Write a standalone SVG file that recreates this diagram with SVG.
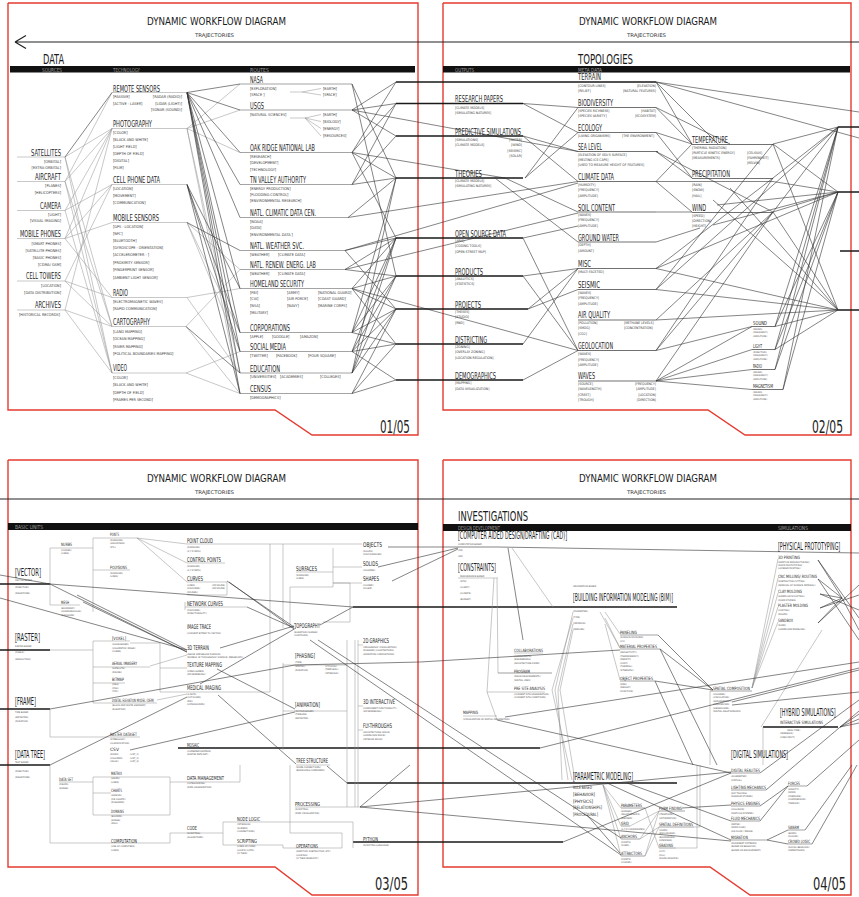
<svg xmlns="http://www.w3.org/2000/svg" width="859" height="897" viewBox="0 0 859 897">
<style>
text{font-family:'DejaVu Sans Condensed','DejaVu Sans','Liberation Sans',sans-serif;font-stretch:condensed}
.f{fill:none;stroke:#e53b2f;stroke-width:1.4}
.h{font-size:11px;fill:#1a1a1a}
.tr{font-size:5px;fill:#333}
.big{font-size:14.5px;fill:#1a1a1a}
.bar{font-size:5.5px;fill:#9a9a9a}
.pg{font-size:17px;fill:#222}
.t{font-size:9px;fill:#1e1e1e}
.t6{font-size:6.5px;fill:#1e1e1e}
.t5{font-size:5.5px;fill:#1e1e1e}
.t4{font-size:4.5px;fill:#2a2a2a}
.tb{font-size:10px;fill:#1e1e1e}
.s1{font-size:3.8px;fill:#3a3a3a}
.s2{font-size:3.4px;fill:#3a3a3a}
.s3{font-size:2.4px;fill:#4a4a4a}
.e{text-anchor:end}
.u{stroke:#666;stroke-width:0.6;fill:none}
.u2{stroke:#333;stroke-width:0.7;fill:none}
.d{stroke:#333;stroke-width:0.6;fill:none}
.g{stroke:#909090;stroke-width:0.5;fill:none}
.k{stroke:#1a1a1a;stroke-width:1.5;fill:none}
.hl{stroke:#222;stroke-width:1.2;fill:none}
.blk{fill:#111}
</style>

<g id="frames">
<polyline class="f" points="8,3 418,3 418,435 312,435 275,410 8,410 8,3"/>
<polyline class="f" points="443,3 851,3 851,435 745,435 708,410 443,410 443,3"/>
<polyline class="f" points="8,460 418,460 418,895 312,895 275,867 8,867 8,460"/>
<polyline class="f" points="443,460 851,460 851,895 750,895 710,867 443,867 443,460"/>
</g>

<g id="headers">
<text class="h" x="147" y="25" textLength="139" lengthAdjust="spacingAndGlyphs">DYNAMIC WORKFLOW DIAGRAM</text>
<text class="tr" x="195" y="37" textLength="39" lengthAdjust="spacingAndGlyphs">TRAJECTORIES</text>
<text class="h" x="579" y="25" textLength="138" lengthAdjust="spacingAndGlyphs">DYNAMIC WORKFLOW DIAGRAM</text>
<text class="tr" x="627" y="37" textLength="39" lengthAdjust="spacingAndGlyphs">TRAJECTORIES</text>
<text class="h" x="147" y="482" textLength="139" lengthAdjust="spacingAndGlyphs">DYNAMIC WORKFLOW DIAGRAM</text>
<text class="tr" x="195" y="494" textLength="39" lengthAdjust="spacingAndGlyphs">TRAJECTORIES</text>
<text class="h" x="579" y="482" textLength="138" lengthAdjust="spacingAndGlyphs">DYNAMIC WORKFLOW DIAGRAM</text>
<text class="tr" x="627" y="494" textLength="39" lengthAdjust="spacingAndGlyphs">TRAJECTORIES</text>
<path class="hl" d="M15 42H859M15 42L26 35.5M15 42L26 48.5M0 499H859"/>
<text class="big" x="43" y="64" textLength="21" lengthAdjust="spacingAndGlyphs">DATA</text>
<rect class="blk" x="10" y="66" width="405" height="6.5"/>
<text class="bar" x="42" y="71.5" textLength="20" lengthAdjust="spacingAndGlyphs">SOURCES</text>
<text class="bar" x="113" y="71.5" textLength="27" lengthAdjust="spacingAndGlyphs">TECHNOLOGY</text>
<text class="bar" x="250" y="71.5" textLength="19" lengthAdjust="spacingAndGlyphs">ROUTES</text>
<text class="big" x="578" y="64" textLength="55" lengthAdjust="spacingAndGlyphs">TOPOLOGIES</text>
<rect class="blk" x="443" y="66" width="407" height="6.5"/>
<text class="bar" x="455" y="71.5" textLength="19" lengthAdjust="spacingAndGlyphs">OUTPUTS</text>
<text class="bar" x="578" y="71.5" textLength="24" lengthAdjust="spacingAndGlyphs">META DATA</text>
<rect class="blk" x="8" y="523" width="410" height="7"/>
<text class="bar" x="15" y="529" textLength="28" lengthAdjust="spacingAndGlyphs">BASIC UNITS</text>
<text class="big" x="458" y="521" textLength="70" lengthAdjust="spacingAndGlyphs">INVESTIGATIONS</text>
<rect class="blk" x="443" y="524" width="408" height="7"/>
<text class="bar" x="458" y="530" textLength="42" lengthAdjust="spacingAndGlyphs">DESIGN DEVELOPMENT</text>
<text class="bar" x="778" y="530" textLength="30" lengthAdjust="spacingAndGlyphs">SIMULATIONS</text>
<text class="pg" x="380" y="433" textLength="30" lengthAdjust="spacingAndGlyphs">01/05</text>
<text class="pg" x="812" y="433" textLength="31" lengthAdjust="spacingAndGlyphs">02/05</text>
<text class="pg" x="375" y="890" textLength="33" lengthAdjust="spacingAndGlyphs">03/05</text>
<text class="pg" x="813" y="890" textLength="33" lengthAdjust="spacingAndGlyphs">04/05</text>
</g>

<g id="connectors">
<path class="g" d="M65 157L112 128.5M65 157L112 326.5M65 157L112 373M65 181.5L112 92.5M65 181.5L112 128.5M65 181.5L112 326.5M65 181.5L112 373M65 210.5L112 128.5M65 210.5L112 184.5M65 210.5L112 373M65 238.5L112 184.5M65 238.5L112 222.5M65 238.5L112 128.5M65 238.5L112 297.5M65 281L112 297.5M65 281L112 184.5M65 281L112 326.5M65 310L112 326.5M65 310L112 128.5M65 310L112 373M187 128.5L240 84M187 128.5L240 110M187 128.5L240 152.5M187 128.5L240 373M187 128.5L240 393.5M187 222.5L240 269.5M187 222.5L240 332.5M187 222.5L240 351.5M187 297.5L240 288.5M187 297.5L240 373M186 326.5L240 269.5M186 326.5L240 393.5M186 373L240 393.5M186 373L240 351.5M290 92H302M302 92L321 88.5M302 92L321 95M290 118H305M305 118L321 114.5M305 118L321 121.5M305 118L321 128.5M305 118L321 136"/>
<path class="d" d="M65 157L112 92.5M187 92.5L240 84M187 92.5L240 110M187 92.5L240 152.5M187 92.5L240 184.5M187 92.5L240 217.5M187 92.5L240 288.5M187 92.5L240 332.5M187 92.5L240 351.5M187 92.5L240 373M187 92.5L240 393.5M187 184.5L240 288.5M187 184.5L240 332.5M187 184.5L240 351.5M187 184.5L240 393.5M187 222.5L240 250.5M186 326.5L240 373M352 84L396 178M352 84L396 276M352 110L396 82M352 110L396 103.5M352 110L396 136M352 152.5L396 82M352 152.5L396 103.5M352 152.5L396 178M352 152.5L396 238M352 184.5L396 103.5M352 184.5L396 136M352 184.5L396 178M348 217.5L396 178M345 250.5L396 238M345 250.5L396 309M345 269.5L396 238M345 269.5L396 276M352 288.5L396 238M352 288.5L396 276M352 288.5L396 309M352 288.5L396 344M352 332.5L396 178M352 332.5L396 238M352 332.5L396 276M352 332.5L396 309M352 332.5L396 344M352 351.5L396 238M352 351.5L396 276M352 351.5L396 309M352 351.5L396 344M352 351.5L396 380M352 373L396 178M352 373L396 238M352 373L396 276M352 373L396 309M352 393.5L396 309M352 393.5L396 344M352 393.5L396 380M352 110L578 151.5M348 217.5L578 181.5M345 250.5L578 183M345 269.5L578 213M352 288.5L578 350.5M352 152.5L505 178"/>
<path class="k" d="M396 82H656M396 103.5H523M396 136H523M396 178H523M396 238H523M396 276H523M396 309H528M396 344H523M396 380H523M838 127H859M838 192H859M840 251H859M838 310H859"/>
<path class="d" d="M523 103.5L578 107.5M523 103.5L578 132.5M523 136L578 151.5M523 136L578 181.5M525 178L578 107.5M525 178L578 132.5M505 178L578 212M495 178L578 242M523 238L578 226M523 238L578 350.5M523 276L578 268.5M523 276L578 350.5M528 309L578 268.5M528 309L578 289.5M523 344L578 268.5M523 380L578 350.5M656 82L692 144M656 82L718 144M656 82L859 112M656 82L859 138M656 107.5L692 144M656 107.5L730 144M656 132.5L692 144M656 132.5L692 178M656 151.5L692 178M656 151.5L773 212M656 181.5L692 144M656 181.5L692 212M656 181.5L773 181.5M656 212L692 212M656 242L700 228M656 268.5L773 178M656 268.5L838 310M656 268.5L838 192M656 289.5L773 144M656 289.5L838 127M656 289.5L838 310M656 320L838 310M656 320L773 212M656 350.5L773 178M656 350.5L773 212M656 350.5L752 326.5M656 381L752 326.5M656 381L752 349.5M656 381L752 369.5M656 381L752 389.5M656 381L773 212M838 127L773 178M838 127L773 212M838 127L775 326.5M838 127L775 349.5M838 127L775 369.5M838 127L783 389.5M838 127L773 144M838 192L773 144M838 192L773 181.5M838 192L773 212M838 192L717 205M838 192L713 225M838 192L775 326.5M838 192L775 349.5M838 192L775 369.5M838 192L783 389.5M838 310L775 326.5M838 310L775 349.5M838 310L730 188M838 310L713 200M838 310L773 144M838 310L773 212"/>
<path class="k" d="M0 584H50M0 650H50M0 709H50M0 765H50M178 748H540M353 607H677M347 783H677M353 842H563M763 727H838"/>
<path class="g" d="M50 548V605M50 548H93M93 548V538H137M93 548V612M93 570H130M50 605H80M187 544H362M187 563H225M187 582H227V595H187M185 602V610M185 607H247M270 544V628M283 544V628M296 572H333M333 548V587M333 567H362M333 583H362M290 628V587H333M333 583H350V622H323M50 650H93M93 641V703M93 641H130M93 667H150M93 683H125M93 703H157M130 643H160V692H270V628M160 668H187M50 709V737H140M283 663V750M283 665H295M283 711H295M295 665H347M347 640V807M295 711H347M355 640V807M358 640V807M358 645H363M358 706H363M358 730H363M296 765H330M50 765V843H170M59 782H93M93 777V815M93 777H170M93 815H170M170 777V815M93 793H111M170 782H240V765M170 843V833H223M223 822V845M223 822H353V848M223 845H283V848H342V833H290V765M295 807H360M137 538L187 544M137 538L187 563M137 538L187 582M150 666L187 655M157 700L187 694M512 548L553 607M458 578H498M497 578L498 673H552M494 578L487 692H545M487 692L497 720M463 716H497M514 653H543M573 612L555 690L568 780M573 618L552 690L572 780M573 624L558 690L562 780M573 630L560 690L575 780M605 612L620 634M605 618L620 648M605 624L620 680M600 612L620 648M752 688L778 622M752 688L778 607M752 688L778 593M752 688L778 578M752 688L778 559M710 691V765M761 727L822 630M763 727V765M603 785L621 808M603 785L621 826M603 785L621 839M603 785L621 856M645 808L659 848M630 826L659 811M640 839L659 811M640 839L659 827M645 856L659 811M645 856L659 827M676 848H697V765M694 827H700V765"/>
<path class="d" d="M227 581L294 627M229 582L294 629M247 607L294 628M50 584L353 607M50 584L187 652M0 598L187 650M77 595L187 650M83 602L187 652M0 575L50 584M320 625L353 607M310 640L621 855M318 640L621 838M220 648L294 626M200 684L296 628M50 709L295 665L420 662L620 650M217 669L295 709M218 695L296 764M50 765L187 697M130 750L295 712M327 766L347 783M360 807L731 772M360 807L731 841M360 807L410 765M563 842L731 773M388 547L458 547M378 567L458 548M392 581L458 549M458 547H497M497 547L859 553M508 548L523 640M658 635L713 690M660 649L713 690M660 649L717 765M655 681L693 765M655 681L713 690M732 702L859 670M732 705L859 692M505 717L859 662M497 720L731 773M540 748L859 668M840 727L859 714M840 727L859 719M840 727L859 723M818 560L842 598M818 579L842 598M820 594L842 598M820 608L842 598M818 623L842 598M818 560L859 618M818 579L859 640M820 594L859 610M820 608L859 595M818 623L859 585M842 598L859 630M760 773L859 700M766 790L859 711M807 786L859 740M760 806L788 786M760 821L788 786M767 840L788 830M767 840L788 844M805 830L852 765M812 844L857 765M627 783L731 821M607 783L731 840M682 808L731 805M587 815L620 853"/>
</g>

<!-- PANEL 1 : SOURCES -->
<g id="n-satellites"><line class="g" x1="17" y1="157" x2="65" y2="157"/><text class="t" x="31" y="155.5" textLength="30" lengthAdjust="spacingAndGlyphs">SATELLITES</text><text class="s1 e" x="61" y="162.5">[ORBITAL]</text><text class="s1 e" x="61" y="169">[EXTRA-ORBITAL]</text></g>
<g id="n-aircraft"><line class="g" x1="17" y1="181.5" x2="65" y2="181.5"/><text class="t" x="35" y="180" textLength="26" lengthAdjust="spacingAndGlyphs">AIRCRAFT</text><text class="s1 e" x="61" y="187">[PLANES]</text><text class="s1 e" x="61" y="194">[HELICOPTERS]</text></g>
<g id="n-camera"><line class="g" x1="17" y1="210.5" x2="65" y2="210.5"/><text class="t" x="40" y="209" textLength="21" lengthAdjust="spacingAndGlyphs">CAMERA</text><text class="s1 e" x="61" y="215.5">[LIGHT]</text><text class="s1 e" x="61" y="222">[VISUAL IMAGING]</text></g>
<g id="n-mobile-phones"><line class="g" x1="17" y1="238.5" x2="65" y2="238.5"/><text class="t" x="20" y="237" textLength="41" lengthAdjust="spacingAndGlyphs">MOBILE PHONES</text><text class="s1 e" x="61" y="245">[SMART PHONES]</text><text class="s1 e" x="61" y="252">[SATELLITE PHONES]</text><text class="s1 e" x="61" y="259">[BASIC PHONES]</text><text class="s1 e" x="61" y="266">[CDMA/ GSM]</text></g>
<g id="n-cell-towers"><line class="g" x1="17" y1="281" x2="65" y2="281"/><text class="t" x="26" y="279" textLength="35" lengthAdjust="spacingAndGlyphs">CELL TOWERS</text><text class="s1 e" x="61" y="287">[LOCATION]</text><text class="s1 e" x="61" y="294">[DATA DISTRIBUTION]</text></g>
<g id="n-archives"><line class="g" x1="17" y1="310" x2="65" y2="310"/><text class="t" x="35" y="308" textLength="26" lengthAdjust="spacingAndGlyphs">ARCHIVES</text><text class="s1" x="19" y="316">[HISTORICAL RECORDS]</text></g>

<!-- PANEL 1 : TECHNOLOGY -->
<g id="n-remote-sensors"><line class="g" x1="112" y1="92.5" x2="187" y2="92.5"/><text class="t" x="113" y="91.5" textLength="47" lengthAdjust="spacingAndGlyphs">REMOTE SENSORS</text><text class="s1" x="113" y="98">[PASSIVE]</text><text class="s1" x="113" y="104.5">[ACTIVE - LASER]</text><text class="s1 e" x="182" y="98">[RADAR (RADIO)]</text><text class="s1 e" x="182" y="104.5">[LIDAR (LIGHT)]</text><text class="s1 e" x="182" y="111">[SONAR (SOUND)]</text></g>
<g id="n-photography"><line class="g" x1="112" y1="128.5" x2="187" y2="128.5"/><text class="t" x="113" y="127" textLength="39" lengthAdjust="spacingAndGlyphs">PHOTOGRAPHY</text><text class="s1" x="113" y="133.5">[COLOR]</text><text class="s1" x="113" y="140.5">[BLACK AND WHITE]</text><text class="s1" x="113" y="147.5">[LIGHT FIELD]</text><text class="s1" x="113" y="154.5">[DEPTH OF FIELD]</text><text class="s1" x="113" y="161.5">[DIGITAL]</text><text class="s1" x="113" y="168.5">[FILM]</text></g>
<g id="n-cell-phone-data"><line class="g" x1="112" y1="184.5" x2="187" y2="184.5"/><text class="t" x="113" y="183" textLength="47" lengthAdjust="spacingAndGlyphs">CELL PHONE DATA</text><text class="s1" x="113" y="189.5">[LOCATION]</text><text class="s1" x="113" y="196.5">[MOVEMENT]</text><text class="s1" x="113" y="204">[COMMUNICATION]</text></g>
<g id="n-mobile-sensors"><line class="g" x1="112" y1="222.5" x2="187" y2="222.5"/><text class="t" x="113" y="221" textLength="46" lengthAdjust="spacingAndGlyphs">MOBILE SENSORS</text><text class="s1" x="113" y="227.5">[GPS - LOCATION]</text><text class="s1" x="113" y="234.5">[NFC]</text><text class="s1" x="113" y="242">[BLUETOOTH]</text><text class="s1" x="113" y="249">[GYROSCOPE - ORIENTATION]</text><text class="s1" x="113" y="256">[ACCELEROMETER - ]</text><text class="s1" x="113" y="264">[PROXIMITY SENSOR]</text><text class="s1" x="113" y="271">[FINGERPRINT SENSOR]</text><text class="s1" x="113" y="279">[AMBIENT LIGHT SENSOR]</text></g>
<g id="n-radio"><line class="g" x1="112" y1="297.5" x2="187" y2="297.5"/><text class="t" x="113" y="296" textLength="15" lengthAdjust="spacingAndGlyphs">RADIO</text><text class="s1" x="113" y="303">[ELECTROMAGNETIC WAVES]</text><text class="s1" x="113" y="309.5">[RAPID COMMUNICATION]</text></g>
<g id="n-cartography"><line class="g" x1="112" y1="326.5" x2="186" y2="326.5"/><text class="t" x="113" y="325" textLength="37" lengthAdjust="spacingAndGlyphs">CARTOGRAPHY</text><text class="s1" x="113" y="332.5">[LAND MAPPING]</text><text class="s1" x="113" y="340">[OCEAN MAPPING]</text><text class="s1" x="113" y="347.5">[RIVER MAPPING]</text><text class="s1" x="113" y="355">[POLITICAL BOUNDARIES MAPPING]</text></g>
<g id="n-video"><line class="g" x1="112" y1="373" x2="186" y2="373"/><text class="t" x="113" y="371" textLength="14" lengthAdjust="spacingAndGlyphs">VIDEO</text><text class="s1" x="113" y="378.5">[COLOR]</text><text class="s1" x="113" y="386">[BLACK AND WHITE]</text><text class="s1" x="113" y="393.5">[DEPTH OF FIELD]</text><text class="s1" x="113" y="401">[FRAMES PER SECOND]</text></g>

<!-- PANEL 1 : ROUTES -->
<g id="n-nasa"><line class="u" x1="240" y1="84" x2="352" y2="84"/><text class="t" x="250" y="83" textLength="13" lengthAdjust="spacingAndGlyphs">NASA</text><text class="s1" x="250" y="89.5">[EXPLORATION]</text><text class="s1" x="250" y="96">[SPACE ]</text><text class="s1" x="323" y="89.5">[EARTH]</text><text class="s1" x="323" y="96">[SPACE]</text></g>
<g id="n-usgs"><line class="u" x1="240" y1="110" x2="352" y2="110"/><text class="t" x="250" y="108.5" textLength="14" lengthAdjust="spacingAndGlyphs">USGS</text><text class="s1" x="250" y="115.5">[NATURAL SCIENCES]</text><text class="s1" x="323" y="115.5">[EARTH]</text><text class="s1" x="323" y="122.5">[BIOLOGY]</text><text class="s1" x="323" y="129.5">[ENERGY]</text><text class="s1" x="323" y="137">[RESOURCES]</text></g>
<g id="n-oak-ridge"><line class="u" x1="240" y1="152.5" x2="352" y2="152.5"/><text class="t" x="250" y="151" textLength="65" lengthAdjust="spacingAndGlyphs">OAK RIDGE NATIONAL LAB</text><text class="s1" x="250" y="157.5">[RESEARCH]</text><text class="s1" x="250" y="164">[DEVELOPMENT]</text><text class="s1" x="250" y="171">[TECHNOLOGY]</text></g>
<g id="n-tn-valley"><line class="u" x1="240" y1="184.5" x2="352" y2="184.5"/><text class="t" x="250" y="183" textLength="56" lengthAdjust="spacingAndGlyphs">TN VALLEY AUTHORITY</text><text class="s1" x="250" y="189.5">[ENERGY PRODUCTION]</text><text class="s1" x="250" y="195.5">[FLOODING CONTROL]</text><text class="s1" x="250" y="201.5">[ENVIRONMENTAL RESEARCH]</text></g>
<g id="n-ncdc"><line class="u" x1="240" y1="217.5" x2="348" y2="217.5"/><text class="t" x="250" y="216" textLength="66" lengthAdjust="spacingAndGlyphs">NATL. CLIMATIC DATA CEN.</text><text class="s1" x="250" y="222.5">[NOAA]</text><text class="s1" x="250" y="229">[DATA]</text><text class="s1" x="250" y="236">[ENVIRONMENTAL DATA ]</text></g>
<g id="n-nws"><line class="u" x1="240" y1="250.5" x2="345" y2="250.5"/><text class="t" x="250" y="249" textLength="54" lengthAdjust="spacingAndGlyphs">NATL. WEATHER SVC.</text><text class="s1" x="250" y="256">[WEATHER]</text><text class="s1" x="278" y="256">[CLIMATE DATA]</text></g>
<g id="n-nrel"><line class="u" x1="240" y1="269.5" x2="345" y2="269.5"/><text class="t" x="250" y="268" textLength="66" lengthAdjust="spacingAndGlyphs">NATL. RENEW. ENERG. LAB</text><text class="s1" x="250" y="275">[WEATHER]</text><text class="s1" x="278" y="275">[CLIMATE DATA]</text></g>
<g id="n-homeland"><line class="u" x1="240" y1="288.5" x2="352" y2="288.5"/><text class="t" x="250" y="287" textLength="54" lengthAdjust="spacingAndGlyphs">HOMELAND SECURITY</text><text class="s1" x="250" y="293.5">[FBI]</text><text class="s1" x="287" y="293.5">[ARMY]</text><text class="s1" x="318" y="293.5">[NATIONAL GUARD]</text><text class="s1" x="250" y="300">[CIA]</text><text class="s1" x="287" y="300">[AIR FORCE]</text><text class="s1" x="318" y="300">[COAST GUARD]</text><text class="s1" x="250" y="307">[NSA]</text><text class="s1" x="287" y="307">[NAVY]</text><text class="s1" x="318" y="307">[MARINE CORPS]</text><text class="s1" x="250" y="313.5">[MILITARY]</text></g>
<g id="n-corporations"><line class="u" x1="240" y1="332.5" x2="352" y2="332.5"/><text class="t" x="250" y="331" textLength="40" lengthAdjust="spacingAndGlyphs">CORPORATIONS</text><text class="s1" x="250" y="337.5">[APPLE]</text><text class="s1" x="272" y="337.5">[GOOGLE]</text><text class="s1" x="300" y="337.5">[AMAZON]</text></g>
<g id="n-social-media"><line class="u" x1="240" y1="351.5" x2="352" y2="351.5"/><text class="t" x="250" y="350" textLength="36" lengthAdjust="spacingAndGlyphs">SOCIAL MEDIA</text><text class="s1" x="250" y="357">[TWITTER]</text><text class="s1" x="276" y="357">[FACEBOOK]</text><text class="s1" x="308" y="357">[FOUR SQUARE]</text></g>
<g id="n-education"><line class="u" x1="240" y1="373" x2="352" y2="373"/><text class="t" x="250" y="371.5" textLength="30" lengthAdjust="spacingAndGlyphs">EDUCATION</text><text class="s1" x="250" y="377.5">[UNIVERSITIES]</text><text class="s1" x="280" y="377.5">[ACADEMIES]</text><text class="s1" x="320" y="377.5">[COLLEGES]</text></g>
<g id="n-census"><line class="u" x1="240" y1="393.5" x2="352" y2="393.5"/><text class="t" x="250" y="392" textLength="21" lengthAdjust="spacingAndGlyphs">CENSUS</text><text class="s1" x="250" y="398.5">[DEMOGRAPHICS]</text></g>

<!-- PANEL 2 : OUTPUTS -->
<g id="n-research-papers"><text class="t" x="455" y="102" textLength="48" lengthAdjust="spacingAndGlyphs">RESEARCH PAPERS</text><text class="s2" x="455" y="108.5">[CLIMATE MODELS]</text><text class="s2" x="455" y="114">[SIMULATING NATURES]</text></g>
<g id="n-predictive-simulations"><text class="t" x="455" y="134.5" textLength="66" lengthAdjust="spacingAndGlyphs">PREDICTIVE SIMULATIONS</text><text class="s2" x="455" y="140.5">[SIMULATIONS]</text><text class="s2" x="455" y="146">[CLIMATE MODELS]</text><text class="s2 e" x="522" y="140.5">[WATER]</text><text class="s2 e" x="522" y="146">[WIND]</text><text class="s2 e" x="522" y="151.5">[SEISMIC]</text><text class="s2 e" x="522" y="157">[SOLAR]</text></g>
<g id="n-theories"><text class="t" x="455" y="176.5" textLength="27" lengthAdjust="spacingAndGlyphs">THEORIES</text><text class="s2" x="455" y="181.5">[CLIMATE MODELS]</text><text class="s2" x="455" y="187">[SIMULATING NATURES]</text></g>
<g id="n-open-source-data"><text class="t" x="455" y="236.5" textLength="51" lengthAdjust="spacingAndGlyphs">OPEN SOURCE DATA</text><text class="s2" x="455" y="241.5">[APIS]</text><text class="s2" x="455" y="247">[CODING TOOLS]</text><text class="s2" x="455" y="252.5">[OPEN STREET MAP]</text></g>
<g id="n-products"><text class="t" x="455" y="274.5" textLength="28" lengthAdjust="spacingAndGlyphs">PRODUCTS</text><text class="s2" x="455" y="279.5">[ANALYTICS]</text><text class="s2" x="455" y="285">[STATISTICS]</text></g>
<g id="n-projects"><text class="t" x="455" y="307.5" textLength="26" lengthAdjust="spacingAndGlyphs">PROJECTS</text><text class="s2" x="455" y="312.5">[THESES]</text><text class="s2" x="455" y="318">[STUDIO]</text><text class="s2" x="455" y="323.5">[RND]</text></g>
<g id="n-districting"><text class="t" x="455" y="342.5" textLength="32" lengthAdjust="spacingAndGlyphs">DISTRICTING</text><text class="s2" x="455" y="347.5">[ZONING]</text><text class="s2" x="455" y="353">[OVERLAY ZONING]</text><text class="s2" x="455" y="358.5">[LOCATION REGULATION]</text></g>
<g id="n-demographics"><text class="t" x="455" y="378.5" textLength="41" lengthAdjust="spacingAndGlyphs">DEMOGRAPHICS</text><text class="s2" x="455" y="384">[MAPPING]</text><text class="s2" x="455" y="389.5">[DATA VISUALIZATION]</text></g>

<!-- PANEL 2 : META DATA -->
<g id="n-terrain"><text class="t" x="578" y="80" textLength="23" lengthAdjust="spacingAndGlyphs">TERRAIN</text><text class="s2" x="578" y="86.5">[CONTOUR LINES]</text><text class="s2" x="578" y="92">[RELIEF]</text><text class="s2 e" x="656" y="86.5">[ELEVATION]</text><text class="s2 e" x="656" y="92">[NATURAL FEATURES]</text></g>
<g id="n-biodiversity"><line class="u2" x1="578" y1="107.5" x2="656" y2="107.5"/><text class="t" x="578" y="106" textLength="35" lengthAdjust="spacingAndGlyphs">BIODIVERSITY</text><text class="s2" x="578" y="111.5">[SPECIES RICHNESS]</text><text class="s2" x="578" y="116.5">[SPECIES VARIETY]</text><text class="s2 e" x="656" y="111.5">[HABITAT]</text><text class="s2 e" x="656" y="116.5">[ECOSYSTEM]</text></g>
<g id="n-ecology"><line class="u2" x1="578" y1="132.5" x2="656" y2="132.5"/><text class="t" x="578" y="131" textLength="24" lengthAdjust="spacingAndGlyphs">ECOLOGY</text><text class="s2" x="578" y="136.5">[LIVING ORGANISMS]</text><text class="s2" x="622" y="136.5">[THE ENVIRONMENT]</text></g>
<g id="n-sea-level"><line class="u2" x1="578" y1="151.5" x2="658" y2="151.5"/><text class="t" x="578" y="150" textLength="24" lengthAdjust="spacingAndGlyphs">SEA LEVEL</text><text class="s2" x="578" y="155.5">[ELEVATION OF SEA'S SURFACE]</text><text class="s2" x="578" y="160.5">[MELTING ICE CAPS]</text><text class="s2" x="578" y="166">[USED TO MEASURE HEIGHT OF FEATURES]</text></g>
<g id="n-climate-data"><line class="u2" x1="578" y1="181.5" x2="656" y2="181.5"/><text class="t" x="578" y="180" textLength="36" lengthAdjust="spacingAndGlyphs">CLIMATE DATA</text><text class="s2" x="578" y="185.5">[HUMIDITY]</text><text class="s2" x="578" y="191">[FREQUENCY]</text><text class="s2" x="578" y="196.5">[AMPLITUDE]</text></g>
<g id="n-soil-content"><line class="u2" x1="578" y1="212" x2="656" y2="212"/><text class="t" x="578" y="210.5" textLength="37" lengthAdjust="spacingAndGlyphs">SOIL CONTENT</text><text class="s2" x="578" y="215.5">[WAVES]</text><text class="s2" x="578" y="221">[FREQUENCY]</text><text class="s2" x="578" y="226.5">[AMPLITUDE]</text></g>
<g id="n-ground-water"><line class="u2" x1="578" y1="242" x2="656" y2="242"/><text class="t" x="578" y="240.5" textLength="41" lengthAdjust="spacingAndGlyphs">GROUND WATER</text><text class="s2" x="578" y="246">[DEPTH]</text><text class="s2" x="578" y="251.5">[AMOUNT]</text></g>
<g id="n-misc"><line class="u2" x1="578" y1="268.5" x2="656" y2="268.5"/><text class="t" x="578" y="267" textLength="13" lengthAdjust="spacingAndGlyphs">MISC</text><text class="s2" x="578" y="272.5">[MULTI FACETED]</text></g>
<g id="n-seismic"><line class="u2" x1="578" y1="289.5" x2="656" y2="289.5"/><text class="t" x="578" y="288" textLength="22" lengthAdjust="spacingAndGlyphs">SEISMIC</text><text class="s2" x="578" y="293.5">[WAVES]</text><text class="s2" x="578" y="299">[FREQUENCY]</text><text class="s2" x="578" y="304.5">[AMPLITUDE]</text></g>
<g id="n-air-quality"><line class="u2" x1="578" y1="320" x2="656" y2="320"/><text class="t" x="578" y="318" textLength="32" lengthAdjust="spacingAndGlyphs">AIR QUALITY</text><text class="s2" x="578" y="323.5">[POLLUTION]</text><text class="s2" x="578" y="329">[SMOG]</text><text class="s2" x="578" y="334.5">[CO2]</text><text class="s2" x="624" y="323.5">[METHANE LEVELS]</text><text class="s2" x="624" y="329">[CONCENTRATION]</text></g>
<g id="n-geolocation"><line class="u2" x1="578" y1="350.5" x2="656" y2="350.5"/><text class="t" x="578" y="349" textLength="35" lengthAdjust="spacingAndGlyphs">GEOLOCATION</text><text class="s2" x="578" y="355">[WAVES]</text><text class="s2" x="578" y="360.5">[FREQUENCY]</text><text class="s2" x="578" y="366">[AMPLITUDE]</text></g>
<g id="n-waves"><line class="u2" x1="578" y1="381" x2="656" y2="381"/><text class="t" x="578" y="379" textLength="17" lengthAdjust="spacingAndGlyphs">WAVES</text><text class="s2" x="578" y="384.5">[SOURCE]</text><text class="s2" x="578" y="390">[WAVELENGTH]</text><text class="s2" x="578" y="395.5">[CREST]</text><text class="s2" x="578" y="401">[TROUGH]</text><text class="s2 e" x="656" y="384.5">[FREQUENCY]</text><text class="s2 e" x="656" y="390">[AMPLITUDE]</text><text class="s2 e" x="656" y="395.5">[LOCATION]</text><text class="s2 e" x="656" y="401">[DIRECTION]</text></g>
<g id="n-temperature"><line class="u2" x1="692" y1="144.5" x2="773" y2="144.5"/><text class="t" x="692" y="143" textLength="36" lengthAdjust="spacingAndGlyphs">TEMPERATURE</text><text class="s2" x="692" y="148.5">[THERMAL RADIATION]</text><text class="s2" x="692" y="153.5">[PARTICLE KINETIC ENERGY]</text><text class="s2" x="692" y="158.5">[MEASUREMENTS]</text><text class="s2" x="747" y="153.5">[CELSIUS]</text><text class="s2" x="747" y="158.5">[FAHRENHEIT]</text><text class="s2" x="747" y="164">[KELVIN]</text></g>
<g id="n-precipitation"><line class="u2" x1="692" y1="178.5" x2="773" y2="178.5"/><text class="t" x="692" y="177" textLength="38" lengthAdjust="spacingAndGlyphs">PRECIPITATION</text><text class="s2" x="692" y="185.5">[RAIN]</text><text class="s2" x="692" y="191">[SNOW]</text><text class="s2" x="692" y="196.5">[HAIL]</text></g>
<g id="n-wind"><line class="u2" x1="692" y1="212.5" x2="773" y2="212.5"/><text class="t" x="692" y="211" textLength="14" lengthAdjust="spacingAndGlyphs">WIND</text><text class="s2" x="692" y="216.5">[SPEED]</text><text class="s2" x="692" y="221.5">[DIRECTION]</text><text class="s2" x="692" y="227">[HEIGHT]</text></g>
<g id="n-sound"><line class="u2" x1="752" y1="326.5" x2="775" y2="326.5"/><text class="t5" x="753" y="325" textLength="14" lengthAdjust="spacingAndGlyphs">SOUND</text><text class="s3" x="753" y="329.5">[WAVES]</text><text class="s3" x="753" y="333">[FREQUENCY]</text><text class="s3" x="753" y="336.5">[AMPLITUDE]</text></g>
<g id="n-light"><line class="u2" x1="752" y1="349.5" x2="775" y2="349.5"/><text class="t5" x="753" y="348" textLength="9" lengthAdjust="spacingAndGlyphs">LIGHT</text><text class="s3" x="753" y="352.5">[DIRECTION]</text><text class="s3" x="753" y="356">[FREQUENCY]</text><text class="s3" x="753" y="359.5">[AMPLITUDE]</text></g>
<g id="n-radio2"><line class="u2" x1="752" y1="369.5" x2="775" y2="369.5"/><text class="t5" x="753" y="368" textLength="9" lengthAdjust="spacingAndGlyphs">RADIO</text><text class="s3" x="753" y="372.5">[WAVES]</text><text class="s3" x="753" y="376">[FREQUENCY]</text><text class="s3" x="753" y="379.5">[AMPLITUDE]</text></g>
<g id="n-magnetism"><line class="u2" x1="752" y1="389.5" x2="783" y2="389.5"/><text class="t5" x="753" y="388" textLength="20" lengthAdjust="spacingAndGlyphs">MAGNETISM</text><text class="s3" x="753" y="392.5">[WAVES]</text><text class="s3" x="753" y="396">[FREQUENCY]</text><text class="s3" x="753" y="399.5">[AMPLITUDE]</text></g>

<!-- PANEL 3 -->
<g id="n-vector"><text class="tb" x="15" y="576" textLength="26" lengthAdjust="spacingAndGlyphs">[VECTOR]</text><text class="s3" x="15" y="581">VECTOR BASED</text><text class="s3" x="15" y="588">[DIRECTION]</text><text class="s3" x="15" y="594">[MAGNITUDE]</text></g>
<g id="n-nurbs"><text class="t4" x="61" y="546" textLength="11" lengthAdjust="spacingAndGlyphs">NURBS</text><text class="s3" x="61" y="550.5">[CURVES]</text><text class="s3" x="61" y="554">[LINES]</text></g>
<g id="n-points"><text class="t4" x="110" y="536" textLength="9" lengthAdjust="spacingAndGlyphs">POINTS</text><text class="s3" x="110" y="540.5">[SURFACES]</text><text class="s3" x="110" y="544">[GROUPINGS]</text><text class="s3" x="110" y="547.5">[STL]</text></g>
<g id="n-polygons"><text class="t4" x="110" y="569" textLength="17" lengthAdjust="spacingAndGlyphs">POLYGONS</text><text class="s3" x="110" y="573.5">[SURFACES]</text><text class="s3" x="110" y="577">[LINES]</text></g>
<g id="n-mesh"><text class="t4" x="61" y="604" textLength="8" lengthAdjust="spacingAndGlyphs">MESH</text><text class="s3" x="61" y="608.5">[BOUNDARY]</text><text class="s3" x="61" y="612">[QUADRANGULAR]</text><text class="s3" x="61" y="615.5">[POLYGONS]</text></g>
<g id="n-point-cloud"><text class="t6" x="187" y="543" textLength="26" lengthAdjust="spacingAndGlyphs">POINT CLOUD</text><text class="s3" x="187" y="548">[SURFACES]</text><text class="s3" x="187" y="551.5">[X,Y,Z DATA]</text></g>
<g id="n-control-points"><text class="t6" x="187" y="562" textLength="34" lengthAdjust="spacingAndGlyphs">CONTROL POINTS</text><text class="s3" x="187" y="567">[SURFACES]</text><text class="s3" x="187" y="570.5">[X,Y,Z DATA]</text></g>
<g id="n-curves"><text class="t6" x="187" y="581" textLength="16" lengthAdjust="spacingAndGlyphs">CURVES</text><text class="s3" x="187" y="585.5">[LINES]</text><text class="s3" x="187" y="589">[POLYLINES]</text><text class="s3" x="187" y="592.5">[SPLINES]</text><text class="s3" x="212" y="585.5">[2D SPLINE]</text><text class="s3" x="212" y="589">[3D SPLINE]</text></g>
<g id="n-network-curves"><text class="t6" x="187" y="606" textLength="36" lengthAdjust="spacingAndGlyphs">NETWORK CURVES</text><text class="s3" x="187" y="610.5">[POLYLINES]</text><text class="s3" x="187" y="614">[DIRECTIONALITY]</text></g>
<g id="n-surfaces"><text class="t6" x="296" y="571" textLength="21" lengthAdjust="spacingAndGlyphs">SURFACES</text><text class="s3" x="296" y="575.5">[SURFACES]</text><text class="s3" x="296" y="579">[LINES]</text></g>
<g id="n-objects"><text class="t6" x="363" y="547" textLength="19" lengthAdjust="spacingAndGlyphs">OBJECTS</text><text class="s3" x="363" y="551.5">[SOLIDS]</text><text class="s3" x="363" y="555">[POLY-SURFACES]</text></g>
<g id="n-solids"><text class="t6" x="363" y="566" textLength="15" lengthAdjust="spacingAndGlyphs">SOLIDS</text><text class="s3" x="363" y="570.5">[VOLUMES]</text></g>
<g id="n-shapes"><text class="t6" x="363" y="581" textLength="16" lengthAdjust="spacingAndGlyphs">SHAPES</text><text class="s3" x="363" y="585.5">[CLOSED]</text><text class="s3" x="363" y="589">[FILLED]</text></g>
<g id="n-topography"><text class="t6" x="294" y="628" textLength="26" lengthAdjust="spacingAndGlyphs">TOPOGRAPHY</text><text class="s3" x="294" y="632.5">[ELEVATION CHANGE]</text><text class="s3" x="294" y="636">[CONTOURS]</text></g>
<g id="n-image-trace"><text class="t6" x="187" y="629" textLength="24" lengthAdjust="spacingAndGlyphs">IMAGE TRACE</text><text class="s3" x="187" y="634">[CONVERT BITMAP TO VECTOR]</text></g>
<g id="n-raster"><text class="tb" x="15" y="641" textLength="25" lengthAdjust="spacingAndGlyphs">[RASTER]</text><text class="s3" x="15" y="646.5">RASTER BASED</text><text class="s3" x="15" y="653">[PIXELS]</text><text class="s3" x="15" y="659.5">[RESOLUTION]</text></g>
<g id="n-voxel"><text class="t4" x="112" y="640" textLength="14" lengthAdjust="spacingAndGlyphs">[VOXEL]</text><text class="s3" x="112" y="645">[VALUE BASED]</text><text class="s3" x="112" y="648.5">[VOLUMETRIC IMAGE]</text><text class="s3" x="112" y="652">[CUBES]</text></g>
<g id="n-3d-terrain"><text class="t6" x="187" y="650" textLength="22" lengthAdjust="spacingAndGlyphs">3D TERRAIN</text><text class="s3" x="187" y="654.5">[ABOVE AND BELOW SURFACE]</text><text class="s3" x="187" y="658">[MODELS OF TOPOGRAPHIC SURFACE, MESHES ETC]</text></g>
<g id="n-aerial-imagery"><text class="t4" x="112" y="665" textLength="25" lengthAdjust="spacingAndGlyphs">AERIAL IMAGERY</text><text class="s3" x="112" y="669">[SATELLITE]</text><text class="s3" x="112" y="672.5">[DRONE]</text></g>
<g id="n-texture-mapping"><text class="t6" x="187" y="667" textLength="35" lengthAdjust="spacingAndGlyphs">TEXTURE MAPPING</text><text class="s3" x="187" y="671.5">[VIDEO GAMES]</text><text class="s3" x="187" y="675">[3D RENDERING]</text></g>
<g id="n-bitmap"><text class="t4" x="112" y="681" textLength="12" lengthAdjust="spacingAndGlyphs">BITMAP</text><text class="s3" x="112" y="685">[JPEG]</text><text class="s3" x="112" y="688.5">[PNG]</text><text class="s3" x="112" y="692">[TIFF]</text></g>
<g id="n-medical-imaging"><text class="t6" x="187" y="690" textLength="34" lengthAdjust="spacingAndGlyphs">MEDICAL IMAGING</text><text class="s3" x="187" y="694.5">[X-RAYS]</text><text class="s3" x="187" y="698">[CAT SCANS]</text><text class="s3" x="187" y="701.5">[MRI]</text><text class="s3" x="187" y="705">[ULTRASOUNDS]</text></g>
<g id="n-dem"><text class="t4" x="112" y="702" textLength="42" lengthAdjust="spacingAndGlyphs">DIGITAL ELEVATION MODEL (DEM)</text><text class="s3" x="112" y="706">[BLACK AND WHITE GRADIENT]</text><text class="s3" x="112" y="709.5">[ELEVATION]</text></g>
<g id="n-frame"><text class="tb" x="15" y="705" textLength="21" lengthAdjust="spacingAndGlyphs">[FRAME]</text><text class="s3" x="15" y="713">TIME BASED</text><text class="s3" x="15" y="717.5">[KEYNOTES]</text><text class="s3" x="15" y="722">[DURATION]</text></g>
<g id="n-phasing"><text class="t6" x="295" y="658" textLength="20" lengthAdjust="spacingAndGlyphs">[PHASING]</text><text class="s3" x="295" y="662.5">[TIME]</text><text class="s3" x="295" y="666.5">[SPATIAL]</text><text class="s3" x="295" y="670.5">[DURATION]</text><text class="s3" x="325" y="666.5">[CYCLICAL]</text><text class="s3" x="325" y="670">[TEMPORAL]</text><text class="s3" x="325" y="673.5">[INTERVALS]</text></g>
<g id="n-2d-graphics"><text class="t6" x="363" y="643" textLength="26" lengthAdjust="spacingAndGlyphs">2D GRAPHICS</text><text class="s3" x="363" y="647.5">[INFOGRAPHIC VISUALIZATION]</text><text class="s3" x="363" y="651">[DIAGRAM] [ILLUSTRATIONS]</text><text class="s3" x="363" y="654.5">[ANIMATION COMPOSITIONS]</text></g>
<g id="n-3d-interactive"><text class="t6" x="363" y="704" textLength="32" lengthAdjust="spacingAndGlyphs">3D INTERACTIVE</text><text class="s3" x="363" y="708.5">[COMPONENT FUNCTIONALITY]</text><text class="s3" x="363" y="712">[3D RENDERING]</text></g>
<g id="n-fly-throughs"><text class="t6" x="363" y="728" textLength="29" lengthAdjust="spacingAndGlyphs">FLY-THROUGHS</text><text class="s3" x="363" y="732.5">[ARCHITECTURAL SPACE]</text><text class="s3" x="363" y="736">[LANDSCAPE SPACE]</text><text class="s3" x="363" y="739.5">[INTERIOR SPACE]</text></g>
<g id="n-animation"><text class="t6" x="295" y="707" textLength="25" lengthAdjust="spacingAndGlyphs">[ANIMATION]</text><text class="s3" x="295" y="711.5">[MOTION BASED]</text><text class="s3" x="295" y="715">[TIMELINE]</text><text class="s3" x="295" y="718.5">[KEYNOTES]</text></g>
<g id="n-raster-dataset"><text class="t4" x="110" y="736" textLength="27" lengthAdjust="spacingAndGlyphs">RASTER DATASET</text><text class="s3" x="110" y="740">[SYMBOLOGY]</text><text class="s3" x="110" y="743.5">[CLASSIFICATION]</text></g>
<g id="n-mosaic"><text class="t5" x="187" y="746.5" textLength="12" lengthAdjust="spacingAndGlyphs">MOSAIC</text><text class="s3" x="187" y="751.5">[COMBINED RASTERS]</text><text class="s3" x="187" y="755">[RASTER DATA SET]</text></g>
<g id="n-csv"><text class="t4" x="110" y="751" textLength="9" lengthAdjust="spacingAndGlyphs">CSV</text><text class="s3" x="110" y="755">[ROWS]</text><text class="s3" x="110" y="758.5">[COLUMNS]</text><text class="s3" x="110" y="762">[CELLS]</text><text class="s3" x="130" y="755">[LIST_1]</text><text class="s3" x="130" y="758.5">[LIST_2]</text><text class="s3" x="130" y="762">[LIST_3]</text></g>
<g id="n-data-tree"><text class="tb" x="15" y="758" textLength="30" lengthAdjust="spacingAndGlyphs">[DATA TREE]</text><text class="s3" x="15" y="763">TEXT BASED</text><text class="s3" x="15" y="771.5">[DIRECTION]</text><text class="s3" x="15" y="778">[MAGNITUDE]</text></g>
<g id="n-tree-structure"><text class="t6" x="296" y="763" textLength="32" lengthAdjust="spacingAndGlyphs">TREE STRUCTURE</text><text class="s3" x="296" y="767.5">[NODE CONNECTIONS]</text><text class="s3" x="296" y="771">[BRANCHING COMMANDS]</text></g>
<g id="n-data-set"><text class="t4" x="59" y="781" textLength="14" lengthAdjust="spacingAndGlyphs">DATA SET</text><text class="s3" x="59" y="785">[FIELDS]</text><text class="s3" x="59" y="788.5">[RANGE]</text></g>
<g id="n-matrix"><text class="t4" x="111" y="775" textLength="11" lengthAdjust="spacingAndGlyphs">MATRIX</text><text class="s3" x="111" y="779">[GRIDS]</text><text class="s3" x="111" y="782.5">[LINES]</text></g>
<g id="n-charts"><text class="t4" x="111" y="792" textLength="11" lengthAdjust="spacingAndGlyphs">CHARTS</text><text class="s3" x="111" y="796">[GRAPHS]</text><text class="s3" x="111" y="799.5">[PIE CHARTS]</text><text class="s3" x="111" y="803">[DIAGRAMS]</text></g>
<g id="n-domains"><text class="t4" x="111" y="813" textLength="13" lengthAdjust="spacingAndGlyphs">DOMAINS</text><text class="s3" x="111" y="817">[BOUNDS]</text><text class="s3" x="111" y="820.5">[RANGE]</text><text class="s3" x="111" y="824">[MAX]</text></g>
<g id="n-data-management"><text class="t5" x="187" y="780" textLength="37" lengthAdjust="spacingAndGlyphs">DATA MANAGEMENT</text><text class="s3" x="187" y="784">[CATEGORIZING]</text><text class="s3" x="187" y="787.5">[DATA ORGANIZATION]</text></g>
<g id="n-processing"><text class="t5" x="295" y="806" textLength="25" lengthAdjust="spacingAndGlyphs">PROCESSING</text><text class="s3" x="295" y="810">[SCRIPTING]</text><text class="s3" x="295" y="813.5">[DATA VISUALIZATION]</text></g>
<g id="n-node-logic"><text class="t5" x="237" y="821" textLength="23" lengthAdjust="spacingAndGlyphs">NODE LOGIC</text><text class="s3" x="237" y="825">[INTERFACE]</text><text class="s3" x="237" y="828.5">[SLIDERS]</text><text class="s3" x="237" y="832">[CONNECTIONS]</text></g>
<g id="n-code"><text class="t5" x="187" y="830" textLength="10" lengthAdjust="spacingAndGlyphs">CODE</text><text class="s3" x="187" y="834">[SCRIPTING]</text><text class="s3" x="187" y="837.5">[ALGORITHMS]</text></g>
<g id="n-computation"><text class="t5" x="111" y="843" textLength="26" lengthAdjust="spacingAndGlyphs">COMPUTATION</text><text class="s3" x="111" y="847">[USE OF COMPUTERS]</text><text class="s3" x="111" y="850.5">[LINKS]</text></g>
<g id="n-scripting"><text class="t5" x="237" y="843" textLength="20" lengthAdjust="spacingAndGlyphs">SCRIPTING</text><text class="s3" x="237" y="847">[LINES OF CODE]</text><text class="s3" x="237" y="850.5">[LOOPS] [LISTS]</text><text class="s3" x="237" y="854">[IF THEN]</text></g>
<g id="n-operations"><text class="t5" x="296" y="848" textLength="22" lengthAdjust="spacingAndGlyphs">OPERATIONS</text><text class="s3" x="296" y="852">[ADDITION, SUBTRACTION, ETC]</text><text class="s3" x="296" y="855.5">[LOOPING]</text><text class="s3" x="296" y="859">[IF THEN WHEN ETC]</text></g>
<g id="n-python"><text class="t5" x="363" y="840.5" textLength="15" lengthAdjust="spacingAndGlyphs">PYTHON</text><text class="s3" x="363" y="845.5">[SCRIPTING LANGUAGE]</text></g>

<!-- PANEL 4 -->
<g id="n-cad"><text class="tb" x="458" y="539" textLength="109" lengthAdjust="spacingAndGlyphs">[COMPUTER AIDED DESIGN/DRAFTING (CAD)]</text><text class="s3" x="458" y="545">COMPUTATION BASED</text><text class="s3" x="458" y="551">[2D]</text><text class="s3" x="458" y="557">[3D]</text></g>
<g id="n-constraints"><text class="tb" x="458" y="571" textLength="38" lengthAdjust="spacingAndGlyphs">[CONSTRAINTS]</text><text class="s3" x="460" y="576.5">PERFORMANCE  BASED</text><text class="s3" x="460" y="582">[SITE]</text><text class="s3" x="460" y="588">[CLIENT]</text><text class="s3" x="460" y="594">[CLIMATE]</text><text class="s3" x="460" y="600">[BUDGET]</text></g>
<g id="n-bim"><text class="s3" x="573" y="587">INFORMATION BASED</text><text class="tb" x="573" y="601" textLength="100" lengthAdjust="spacingAndGlyphs">[BUILDING INFORMATION MODELING (BIM)]</text><text class="s3" x="573" y="612">[PROPERTIES]</text><text class="s3" x="573" y="618">[TYPE]</text><text class="s3" x="573" y="624">[INSTANCE]</text><text class="s3" x="573" y="630">[FAMILIES]</text></g>
<g id="n-physical-prototyping"><text class="tb" transform="translate(778 549.5) scale(0.53 1)">[PHYSICAL PROTOTYPING]</text></g>
<g id="n-3d-printing"><text class="t4" x="778" y="559" textLength="22" lengthAdjust="spacingAndGlyphs">3D PRINTING</text><text class="s3" x="778" y="563">[ADDITIVE MANUFACTURING]</text><text class="s3" x="778" y="566">[RAPID PROTOTYPING]</text><text class="s3" x="778" y="569">[LAYERED PRINTING]</text></g>
<g id="n-cnc"><text class="t4" x="778" y="578" textLength="39" lengthAdjust="spacingAndGlyphs">CNC MILLING/ ROUTING</text><text class="s3" x="778" y="582">[SUBTRACTIVE CUTTING]</text><text class="s3" x="778" y="585.5">[REMOVAL OF SURFACE MATERIAL]</text></g>
<g id="n-clay-molding"><text class="t4" x="778" y="593" textLength="24" lengthAdjust="spacingAndGlyphs">CLAY MOLDING</text><text class="s3" x="778" y="597">[HANDS ON SCULPTING]</text><text class="s3" x="778" y="600.5">[FORM STUDIES]</text></g>
<g id="n-plaster-molding"><text class="t4" x="778" y="607" textLength="30" lengthAdjust="spacingAndGlyphs">PLASTER MOLDING</text><text class="s3" x="778" y="611">[CASTING]</text><text class="s3" x="778" y="614.5">[MOLDS]</text></g>
<g id="n-sandbox"><text class="t4" x="778" y="622" textLength="15" lengthAdjust="spacingAndGlyphs">SANDBOX</text><text class="s3" x="778" y="626">[SAND]</text><text class="s3" x="778" y="629.5">[LANDSCAPE MODELING]</text></g>
<g id="n-paneling"><line class="u" x1="620" y1="635" x2="658" y2="635"/><text class="t4" x="620" y="634" textLength="17" lengthAdjust="spacingAndGlyphs">PANELING</text><text class="s3" x="620" y="638">[SURFACE DIVISIONS]</text><text class="s3" x="620" y="641.5">[UV]</text></g>
<g id="n-collaborations"><text class="t4" x="514" y="652" textLength="29" lengthAdjust="spacingAndGlyphs">COLLABORATIONS</text><text class="s3" x="514" y="656.5">[CONSULTANTS]</text><text class="s3" x="514" y="660">[ENGINEERING]</text><text class="s3" x="514" y="663.5">[ARCHITECTURE FIRMS]</text></g>
<g id="n-material-properties"><line class="u" x1="620" y1="649" x2="660" y2="649"/><text class="t4" x="620" y="648" textLength="37" lengthAdjust="spacingAndGlyphs">MATERIAL PROPERTIES</text><text class="s3" x="620" y="653">[REFLECTIVITY]</text><text class="s3" x="620" y="656.5">[TRANSPARENCY]</text><text class="s3" x="620" y="660">[DENSITY]</text><text class="s3" x="620" y="663.5">[COST]</text><text class="s3" x="620" y="667">[THERMAL]</text><text class="s3" x="620" y="670.5">[STRENGTH]</text></g>
<g id="n-program"><line class="g" x1="498" y1="673" x2="552" y2="673"/><text class="t4" x="514" y="672.5" textLength="16" lengthAdjust="spacingAndGlyphs">PROGRAM</text><text class="s3" x="514" y="677">[SPACE REQUIREMENTS]</text><text class="s3" x="514" y="680.5">[SPATIAL USES]</text></g>
<g id="n-object-properties"><line class="u" x1="620" y1="681" x2="655" y2="681"/><text class="t4" x="620" y="680" textLength="33" lengthAdjust="spacingAndGlyphs">OBJECT PROPERTIES</text><text class="s3" x="620" y="684.5">[SIZE]</text><text class="s3" x="620" y="688">[WEIGHT]</text><text class="s3" x="620" y="691.5">[FUNCTION]</text></g>
<g id="n-pre-site"><text class="t4" x="514" y="690" textLength="31" lengthAdjust="spacingAndGlyphs">PRE SITE ANALYSIS</text><text class="s3" x="514" y="694.5">[CURRENT SITE ORGANIZATION]</text><text class="s3" x="514" y="698">[CURRENT SITE CONDITIONS]</text></g>
<g id="n-spatial-composition"><line class="u" x1="710" y1="691" x2="752" y2="691"/><text class="t4" x="713" y="690" textLength="37" lengthAdjust="spacingAndGlyphs">SPATIAL COMPOSITION</text><text class="s3" x="713" y="694.5">[VOLUMES]</text><text class="s3" x="713" y="698">[CIRCULATION]</text><text class="s3" x="713" y="701.5">[ARRANGEMENT]</text><text class="s3" x="713" y="705">[ADJACENCIES]</text><text class="s3" x="713" y="708.5">[HIERARCHIES]</text><text class="s3" x="713" y="712">[SPATIAL RELATIONSHIPS]</text></g>
<g id="n-mapping"><text class="t4" x="463" y="714" textLength="15" lengthAdjust="spacingAndGlyphs">MAPPING</text><text class="s3" x="463" y="719.5">[VISUALIZATION OF SPATIAL INFORMATION]</text></g>
<g id="n-hybrid"><text class="tb" transform="translate(780 716) scale(0.53 1)">[HYBRID SIMULATIONS]</text></g>
<g id="n-interactive-sims"><text class="t4" x="780" y="724" textLength="43" lengthAdjust="spacingAndGlyphs">INTERACTIVE SIMULATIONS</text><text class="s3" x="787" y="730.5">[REAL TIME]</text><text class="s3" x="780" y="734">[FEEDBACK]</text><text class="s3" x="780" y="737.5">[USER INPUT]</text></g>
<g id="n-digital-sims"><text class="tb" x="731" y="758" textLength="57" lengthAdjust="spacingAndGlyphs">[DIGITAL SIMULATIONS]</text></g>
<g id="n-digital-realities"><line class="u" x1="731" y1="773" x2="760" y2="773"/><text class="t4" x="731" y="772" textLength="29" lengthAdjust="spacingAndGlyphs">DIGITAL REALITIES</text><text class="s3" x="731" y="777">[AUGMENTED]</text><text class="s3" x="731" y="780.5">[VIRTUAL]</text></g>
<g id="n-parametric"><text class="tb" x="573" y="780" textLength="60" lengthAdjust="spacingAndGlyphs">[PARAMETRIC MODELING]</text></g>
<g id="n-rule-based"><text class="t4" x="573" y="789" textLength="19" lengthAdjust="spacingAndGlyphs">RULE BASED</text><text class="t4" x="573" y="796" textLength="22" lengthAdjust="spacingAndGlyphs">[BEHAVIOR]</text><text class="t4" x="573" y="802.5" textLength="20" lengthAdjust="spacingAndGlyphs">[PHYSICS]</text><text class="t4" x="573" y="809" textLength="29" lengthAdjust="spacingAndGlyphs">[RELATIONSHIPS]</text><text class="t4" x="573" y="815.5" textLength="25" lengthAdjust="spacingAndGlyphs">[PROCEDURAL]</text></g>
<g id="n-lighting"><line class="u" x1="731" y1="790" x2="766" y2="790"/><text class="t4" x="731" y="789" textLength="35" lengthAdjust="spacingAndGlyphs">LIGHTING MECHANICS</text><text class="s3" x="731" y="793.5">[RAY TRACING]</text><text class="s3" x="731" y="797">[SHADOW STUDIES]</text></g>
<g id="n-forces"><line class="u" x1="788" y1="786" x2="807" y2="786"/><text class="t4" x="788" y="785" textLength="12" lengthAdjust="spacingAndGlyphs">FORCES</text><text class="s3" x="788" y="789.5">[GRAVITY]</text><text class="s3" x="788" y="793">[WIND]</text><text class="s3" x="788" y="796.5">[PRESSURE]</text><text class="s3" x="788" y="800">[COMPRESSION]</text><text class="s3" x="788" y="803.5">[TENSION]</text></g>
<g id="n-physics-engines"><line class="u" x1="731" y1="806" x2="760" y2="806"/><text class="t4" x="731" y="805" textLength="29" lengthAdjust="spacingAndGlyphs">PHYSICS ENGINES</text><text class="s3" x="731" y="810">[COLLISION]</text><text class="s3" x="731" y="813.5">[PARTICLE SYSTEMS]</text></g>
<g id="n-parameters"><line class="u" x1="621" y1="808" x2="645" y2="808"/><text class="t4" x="621" y="807" textLength="21" lengthAdjust="spacingAndGlyphs">PARAMETERS</text><text class="s3" x="621" y="811.5">[RANGES]</text><text class="s3" x="621" y="815">[RELATIONSHIPS]</text><text class="s3" x="621" y="818.5">[DEFINED]</text></g>
<g id="n-form-finding"><line class="u" x1="659" y1="811" x2="685" y2="811"/><text class="t4" x="659" y="810" textLength="23" lengthAdjust="spacingAndGlyphs">FORM FINDING</text><text class="s3" x="659" y="815">[ITERATIONS]</text><text class="s3" x="659" y="818.5">[OPTIMIZATION]</text></g>
<g id="n-fluid"><line class="u" x1="731" y1="821" x2="760" y2="821"/><text class="t4" x="731" y="820" textLength="29" lengthAdjust="spacingAndGlyphs">FLUID MECHANICS</text><text class="s3" x="731" y="824.5">[WATER]</text><text class="s3" x="731" y="828">[WIND FLOW]</text><text class="s3" x="731" y="831.5">[AIR FLOW / SMOKE]</text></g>
<g id="n-grid"><line class="u" x1="621" y1="826" x2="630" y2="826"/><text class="t4" x="621" y="825" textLength="8" lengthAdjust="spacingAndGlyphs">GRID</text><text class="s3" x="621" y="829.5">[X,Y,Z COORDINATES]</text></g>
<g id="n-spatial-definitions"><line class="u" x1="659" y1="827" x2="694" y2="827"/><text class="t4" x="659" y="826" textLength="34" lengthAdjust="spacingAndGlyphs">SPATIAL DEFINITIONS</text><text class="s3" x="659" y="830.5">[VOIDS]</text><text class="s3" x="659" y="834">[ENCLOSURES]</text><text class="s3" x="659" y="837.5">[BOUNDARIES]</text><text class="s3" x="659" y="841">[OPENINGS]</text></g>
<g id="n-swarm"><line class="u" x1="788" y1="830" x2="805" y2="830"/><text class="t4" x="788" y="829" textLength="11" lengthAdjust="spacingAndGlyphs">SWARM</text><text class="s3" x="788" y="833.5">[BOIDS]</text><text class="s3" x="788" y="837">[FLOCKS]</text></g>
<g id="n-anchors"><line class="u" x1="621" y1="839" x2="640" y2="839"/><text class="t4" x="621" y="838" textLength="16" lengthAdjust="spacingAndGlyphs">ANCHORS</text><text class="s3" x="621" y="842.5">[POINTS]</text><text class="s3" x="621" y="846">[FIXED]</text></g>
<g id="n-migration"><line class="u" x1="731" y1="840" x2="767" y2="840"/><text class="t4" x="731" y="839" textLength="17" lengthAdjust="spacingAndGlyphs">MIGRATION</text><text class="s3" x="731" y="843.5">[MOVEMENT PATTERNS]</text><text class="s3" x="731" y="847">[BASED ON BEHAVIOR]</text><text class="s3" x="731" y="850.5">[BASED ON ENVIRONMENT]</text></g>
<g id="n-crowd-logic"><line class="u" x1="788" y1="844" x2="812" y2="844"/><text class="t4" x="788" y="843" textLength="22" lengthAdjust="spacingAndGlyphs">CROWD LOGIC</text><text class="s3" x="788" y="847.5">[SOCIAL BEHAVIOR]</text><text class="s3" x="788" y="851">[PEDESTRIANS]</text></g>
<g id="n-grading"><line class="u" x1="659" y1="848" x2="676" y2="848"/><text class="t4" x="659" y="847" textLength="14" lengthAdjust="spacingAndGlyphs">GRADING</text><text class="s3" x="659" y="852">[CUT]</text><text class="s3" x="659" y="855.5">[FILL]</text><text class="s3" x="659" y="859">[SLOPE ANALYSIS]</text></g>
<g id="n-attractors"><line class="u" x1="621" y1="856" x2="645" y2="856"/><text class="t4" x="621" y="855" textLength="21" lengthAdjust="spacingAndGlyphs">ATTRACTORS</text><text class="s3" x="621" y="859.5">[POINTS]</text><text class="s3" x="621" y="863">[CURVES]</text></g>
</svg>
